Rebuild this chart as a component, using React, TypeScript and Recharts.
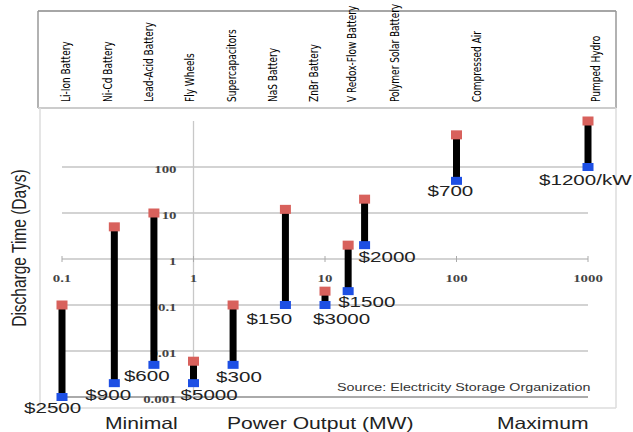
import React from "react";
import { ComposedChart, Scatter, XAxis, YAxis, ReferenceLine, ReferenceDot } from "recharts";

// storage technologies, left to right
const technologies = [
  "Li-Ion Battery",
  "Ni-Cd Battery",
  "Lead-Acid Battery",
  "Fly Wheels",
  "Supercapacitors",
  "NaS Battery",
  "ZnBr Battery",
  "V Redox-Flow Battery",
  "Polymer Solar Battery",
  "Compressed Air",
  "Pumped Hydro",
];
const powerMW = [0.1, 0.25, 0.5, 1, 2, 5, 10, 15, 20, 100, 1000];
const minDays = [0.001, 0.002, 0.005, 0.002, 0.005, 0.1, 0.1, 0.2, 2, 50, 100];
const maxDays = [0.1, 5, 10, 0.006, 0.1, 12, 0.2, 2, 20, 500, 1000];
const costLabels = ["$2500", "$900", "$600", "$5000", "$300", "$150", "$3000", "$1500", "$2000", "$700", "$1200/kW"];

const xTicks = [0.1, 1, 10, 100, 1000];
const yTicks = [0.001, 0.01, 0.1, 1, 10, 100];

// layout
const W = 633;
const H = 432;
const RED = "#d8615c";
const BLUE = "#1d4fe4";
const SX = 1.3; // the original is stretched sideways
const headerX = [67, 109, 150, 191, 233, 274, 315, 353, 396, 478, 597];
const costOffset = [
  [-38, 11], [-29, 12], [-30, 11], [-13, 12], [-17, 12], [-39, 14],
  [-12, 14], [-10, 11], [-6, 12], [-29, 10], [-49, 13],
];

const seriesData = technologies.map((name, i) => [
  { x: powerMW[i], y: minDays[i], end: "min", i, name },
  { x: powerMW[i], y: maxDays[i], end: "max", i, name },
]);

const tickFont = {
  fontFamily: "Liberation Serif, Times New Roman, serif",
  fontWeight: "bold",
  fontSize: 11,
  fill: "#444",
} as const;

const BarEnd = (props: any) => {
  const { cx, cy, payload } = props;
  if (payload.end === "max") {
    return <rect x={cx - 5.5} y={cy - 4.5} width={11} height={9} fill={RED} />;
  }
  const [dx, dy] = costOffset[payload.i];
  return (
    <g>
      <rect x={cx - 5.5} y={cy - 4} width={11} height={8} fill={BLUE} />
      <text
        transform={`translate(${cx + dx},${cy + dy}) scale(1.42,1)`}
        dominantBaseline="central"
        fontFamily="Liberation Sans, Arial, sans-serif"
        fontSize={14.5}
        fill="#222"
      >
        {costLabels[payload.i]}
      </text>
    </g>
  );
};

const XTick = (v: number) => (p: any) => (
  <g>
    <line x1={p.cx} x2={p.cx} y1={p.cy - 3} y2={p.cy + 3} stroke="#aaa" />
    <text
      transform={`translate(${p.cx},${p.cy + 19}) scale(1.35,1)`}
      textAnchor="middle"
      dominantBaseline="central"
      {...tickFont}
    >
      {String(v)}
    </text>
  </g>
);

const YTick = (v: number) => (p: any) => (
  <text
    transform={`translate(${p.cx - 17},${p.cy + 2}) scale(1.35,1)`}
    textAnchor="end"
    dominantBaseline="central"
    {...tickFont}
  >
    {String(v)}
  </text>
);

function Frame() {
  const sans = "Liberation Sans, Arial, sans-serif";
  return (
    <svg width={W} height={H} style={{ position: "absolute", left: 0, top: 0 }}>
      {/* header table */}
      <line x1={38} x2={616} y1={11} y2={11} stroke="#888" strokeWidth={1.5} />
      <line x1={38} x2={38} y1={11} y2={108} stroke="#999" strokeWidth={1.5} />
      <line x1={616} x2={616} y1={11} y2={108} stroke="#999" strokeWidth={1.5} />
      <line x1={38} x2={616} y1={108} y2={108} stroke="#ccc" strokeWidth={2} />
      {/* plot box */}
      <line x1={40} x2={40} y1={108} y2={408} stroke="#ddd" strokeWidth={1.5} />
      <line x1={616} x2={616} y1={108} y2={408} stroke="#ddd" strokeWidth={1.5} />
      <line x1={40} x2={616} y1={408} y2={408} stroke="#ddd" strokeWidth={1.5} />
      {technologies.map((t, i) => (
        <text
          key={t}
          transform={`translate(${headerX[i] + 3},102) scale(${SX},1) rotate(-90)`}
          fontFamily="Liberation Sans Narrow, DejaVu Sans Condensed, Liberation Sans, sans-serif"
          fontSize={10}
          fill="#000"
        >
          {t}
        </text>
      ))}
      <text
        transform={`translate(19,248) scale(${SX},1) rotate(-90)`}
        textAnchor="middle"
        dominantBaseline="central"
        fontFamily={sans}
        fontSize={15.5}
        fill="#222"
      >
        Discharge Time (Days)
      </text>
      <text transform={`translate(105,429) scale(1.28,1)`} fontFamily={sans} fontSize={16.5} fill="#222">
        Minimal
      </text>
      <text transform={`translate(227,429) scale(1.28,1)`} fontFamily={sans} fontSize={16.5} fill="#222">
        Power Output (MW)
      </text>
      <text transform={`translate(497,429) scale(1.28,1)`} fontFamily={sans} fontSize={16.5} fill="#222">
        Maximum
      </text>
      <text transform={`translate(337,391) scale(1.43,1)`} fontFamily={sans} fontSize={10} fill="#333">
        Source: Electricity Storage Organization
      </text>
    </svg>
  );
}

export default function App() {
  return (
    <div style={{ position: "fixed", left: 0, top: 0, width: W, height: H, background: "#fff" }}>
      <Frame />
      <ComposedChart width={W} height={H} margin={{ top: 121, right: 45, bottom: 35, left: 62 }}>
        <XAxis type="number" dataKey="x" scale="log" domain={[0.1, 1000]} hide />
        <YAxis type="number" dataKey="y" scale="log" domain={[0.001, 1000]} hide />
        {yTicks.map((v) => (
          <ReferenceLine
            key={"gy" + v}
            y={v}
            stroke={v === 0.001 ? "#aaa" : "#c4c4c4"}
            strokeWidth={v === 0.001 ? 2 : 1.3}
          />
        ))}
        <ReferenceLine x={1} stroke="#c8c8c8" strokeWidth={1.3} />
        {xTicks.map((v) => (
          <ReferenceDot key={"tx" + v} x={v} y={1} r={0} shape={XTick(v)} />
        ))}
        {yTicks.map((v) => (
          <ReferenceDot key={"ty" + v} x={1} y={v} r={0} shape={YTick(v)} />
        ))}
        {seriesData.map((d, i) => (
          <Scatter
            key={technologies[i]}
            name={technologies[i]}
            data={d}
            fill="#000"
            line={{ stroke: "#000", strokeWidth: 7 }}
            lineType="joint"
            shape={BarEnd}
            isAnimationActive={false}
          />
        ))}
      </ComposedChart>
    </div>
  );
}
